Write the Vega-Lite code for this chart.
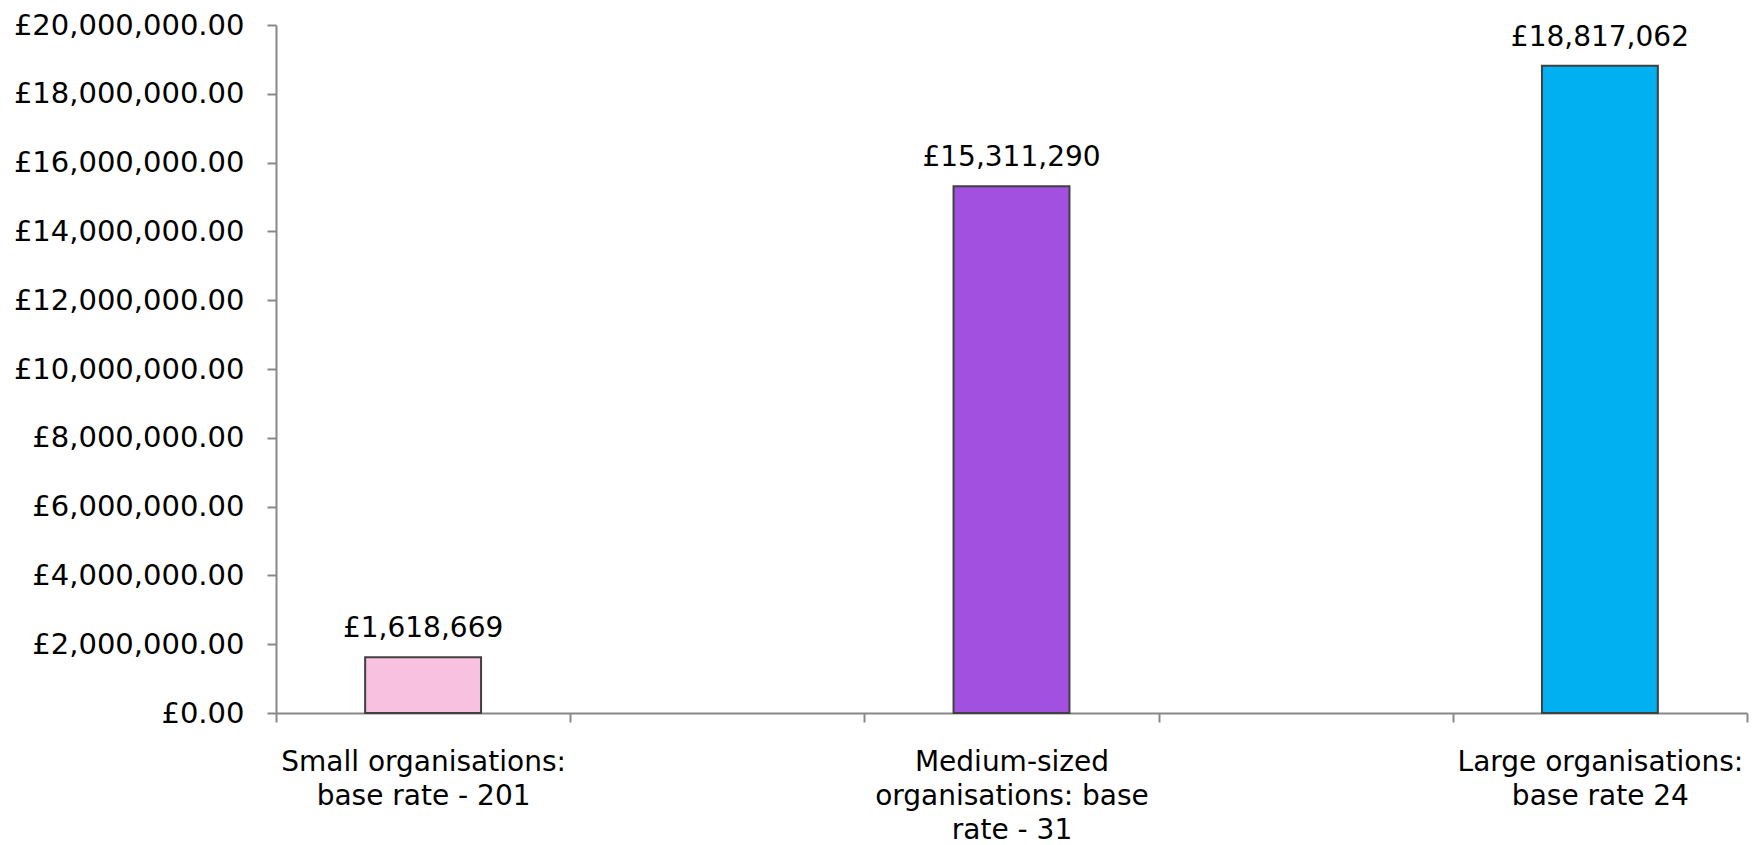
{
  "$schema": "https://vega.github.io/schema/vega-lite/v6.json",
  "width": 1471,
  "height": 688,
  "autosize": {"type": "none"},
  "padding": {"left": 276, "top": 25, "right": 11, "bottom": 132},
  "background": "white",
  "config": {
    "locale": {"number": {"decimal": ".", "thousands": ",", "grouping": [3], "currency": ["£", ""]}},
    "view": {"stroke": null},
    "font": "DejaVu Sans",
    "axis": {"grid": false, "domainColor": "#888888", "tickColor": "#888888", "domainWidth": 2, "tickWidth": 2, "tickSize": 9, "labelColor": "#000000", "labelFont": "DejaVu Sans", "labelFontSize": 28, "labelLimit": 0, "title": null}
  },
  "data": {
    "values": [
      {"category": "Small organisations:\nbase rate - 201", "value": 1618669, "color": "#F8C1DF"},
      {"category": "Medium-sized\norganisations: base\nrate - 31", "value": 15311290, "color": "#A150E0"},
      {"category": "Large organisations:\nbase rate 24", "value": 18817062, "color": "#00B0F0"}
    ]
  },
  "encoding": {
    "x": {
      "field": "category",
      "type": "nominal",
      "sort": null,
      "scale": {
        "domain": ["Small organisations:\nbase rate - 201", " ", "Medium-sized\norganisations: base\nrate - 31", "  ", "Large organisations:\nbase rate 24"],
        "paddingInner": 0,
        "paddingOuter": 0
      },
      "axis": {
        "labelAngle": 0,
        "tickBand": "extent",
        "labelExpr": "datum.value ? split(datum.value, '\\n') : ''",
        "labelLineHeight": 34,
        "labelPadding": 26,
        "labelBaseline": "top",
        "labelAlign": "center"
      }
    },
    "y": {
      "field": "value",
      "type": "quantitative",
      "scale": {"domain": [0, 20000000], "nice": false},
      "axis": {"values": [0, 2000000, 4000000, 6000000, 8000000, 10000000, 12000000, 14000000, 16000000, 18000000, 20000000], "format": "$,.2f", "labelPadding": 23, "labelFontSize": 29}
    }
  },
  "layer": [
    {
      "mark": {"type": "bar", "stroke": "#404040", "strokeWidth": 2, "width": {"band": 0.394}},
      "encoding": {"color": {"field": "color", "type": "nominal", "scale": null, "legend": null}}
    },
    {
      "mark": {"type": "text", "baseline": "alphabetic", "dy": -20, "fontSize": 28, "font": "DejaVu Sans", "color": "#000000"},
      "encoding": {"text": {"field": "value", "type": "quantitative", "format": "$,"}}
    }
  ]
}
